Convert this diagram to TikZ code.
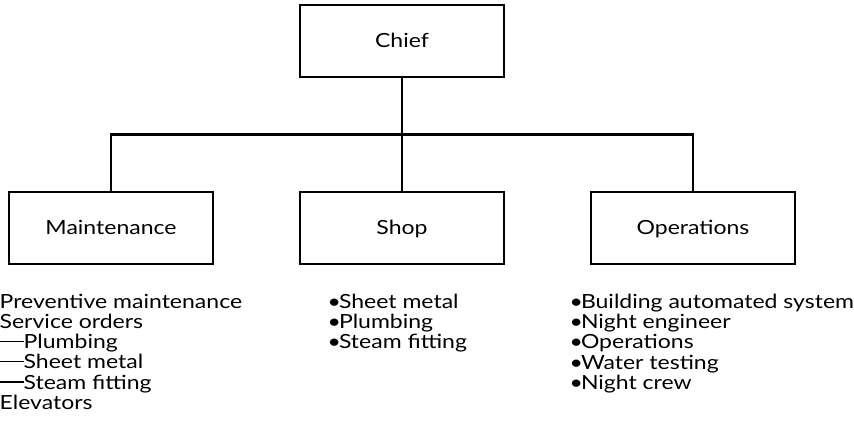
\documentclass[tikz,border=0pt]{standalone}
\usepackage{fontspec}
\setmainfont{Lato}[FakeStretch=1.18]
\usetikzlibrary{trees,positioning}

\newcommand{\longdash}{\rule[6.5pt]{24pt}{1.4pt}}

\tikzset{
unit/.style={draw, line width=1.1pt, minimum width=204pt, minimum height=72pt, inner sep=0pt, text height=14pt, text depth=0pt, font=\fontsize{19.5}{20.3}\selectfont},
duties/.style={align=left, inner sep=0pt, font=\fontsize{19.5}{20.3}\selectfont}
}

\begin{document}
\begin{tikzpicture}[x=1pt, y=1pt,
level distance=187pt,
sibling distance=291pt,
edge from parent fork down,
edge from parent/.style={draw, line width=2.2pt}]
\useasboundingbox (0,0) rectangle (854,438);
\node[unit] (chief) at (402,397) {Chief}
			child { node[unit] (mnt) {Maintenance}}
			child { node[unit] (shop) {Shop}}
			child { node[unit] (ops) {Operations}};

\node[duties, below right=29pt and -9pt of mnt.south west] (mntlist)
	{Preventive maintenance\\Service orders\\\longdash Plumbing\\\longdash Sheet metal\\\longdash Steam fitting\\Elevators};
\node[duties, below right=29pt and 28pt of shop.south west] (shoplist)
	{•\kern-2pt Sheet metal\\•\kern-2pt Plumbing\\•\kern-2pt Steam fitting};
\node[duties, below right=29pt and -21pt of ops.south west] (opslist)
	{•\kern-2pt Building automated system\\•\kern-2pt Night engineer\\•\kern-2pt Operations\\•\kern-2pt Water testing\\•\kern-2pt Night crew};
%\draw[dashed] (mnt) -- (mntlist);
\end{tikzpicture}
\end{document}
